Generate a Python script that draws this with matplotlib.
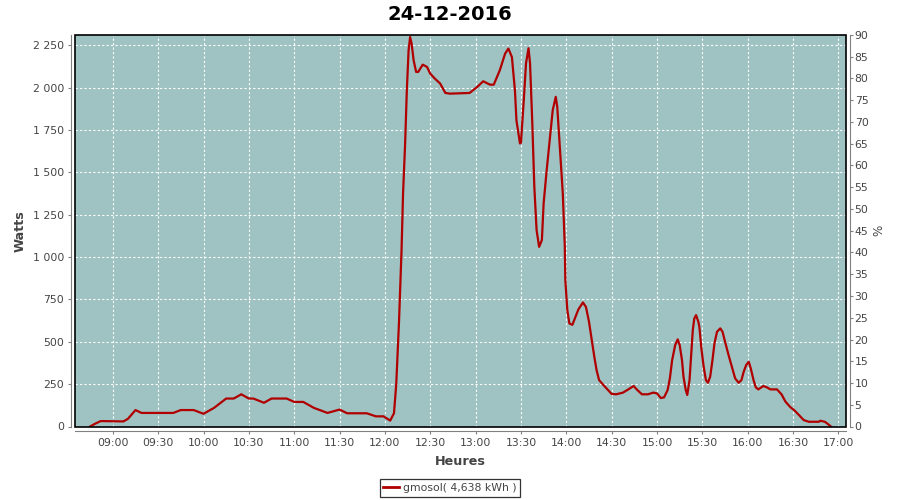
import matplotlib
matplotlib.use("Agg")
import matplotlib.pyplot as plt
import matplotlib.dates as mdates
import matplotlib.ticker as mticker
from matplotlib.patches import Rectangle
from matplotlib.lines import Line2D
import pandas as pd

title = "24-12-2016"
series_name = "gmosol( 4,638 kWh )"

times = ["08:45:00", "08:48:00", "08:52:00", "09:07:00", "09:10:00", "09:15:00", "09:19:00",
         "09:40:00", "09:45:00", "09:53:30", "10:00:00", "10:07:00", "10:15:00", "10:20:00",
         "10:25:00", "10:30:00", "10:33:00", "10:40:00", "10:45:00", "10:55:00", "11:00:00",
         "11:06:00", "11:13:00", "11:22:00", "11:30:00", "11:35:00", "11:48:00", "11:54:00",
         "11:59:00", "12:03:30", "12:06:00", "12:07:30", "12:09:20", "12:11:00", "12:12:00",
         "12:13:20", "12:14:30", "12:15:40", "12:16:40", "12:17:40", "12:19:00", "12:20:40",
         "12:22:00", "12:25:00", "12:27:50", "12:30:00", "12:33:00", "12:36:30", "12:40:00",
         "12:43:00", "12:56:00", "13:01:00", "13:05:00", "13:09:30", "13:12:00", "13:16:00",
         "13:19:30", "13:21:40", "13:24:00", "13:26:00", "13:27:00", "13:29:20", "13:30:00",
         "13:32:00", "13:33:20", "13:35:00", "13:36:00", "13:37:30", "13:38:50", "13:40:20",
         "13:42:00", "13:43:50", "13:45:00", "13:47:00", "13:49:00", "13:51:00", "13:53:00",
         "13:54:00", "13:56:00", "13:57:40", "13:59:00", "13:59:20", "14:00:40", "14:02:00",
         "14:04:00", "14:05:40", "14:08:00", "14:11:00", "14:13:00", "14:15:00", "14:16:40",
         "14:18:30", "14:20:00", "14:21:40", "14:24:30", "14:27:40", "14:30:00", "14:33:00",
         "14:37:30", "14:41:00", "14:44:30", "14:47:00", "14:50:00", "14:54:00", "14:57:30",
         "15:00:00", "15:02:30", "15:04:40", "15:07:00", "15:08:30", "15:10:00", "15:12:00",
         "15:13:40", "15:15:00", "15:16:30", "15:17:30", "15:19:00", "15:20:00", "15:21:30",
         "15:22:30", "15:23:40", "15:24:40", "15:25:50", "15:27:20", "15:28:00", "15:29:20",
         "15:30:50", "15:32:20", "15:33:40", "15:35:10", "15:36:40", "15:38:00", "15:39:40",
         "15:41:50", "15:43:20", "15:45:00", "15:47:20", "15:49:30", "15:51:40", "15:54:00",
         "15:55:50", "15:57:20", "15:59:00", "16:00:40", "16:02:00", "16:03:50", "16:05:20",
         "16:07:00", "16:10:20", "16:12:40", "16:15:00", "16:19:20", "16:22:20", "16:25:00",
         "16:28:20", "16:30:40", "16:33:50", "16:37:00", "16:40:20", "16:47:00", "16:48:00",
         "16:51:00", "16:53:00", "16:55:00"]

watts = [0, 15, 32, 30, 45, 97, 80,
         80, 97, 97, 75, 110, 165, 165,
         190, 165, 165, 140, 165, 165, 145,
         145, 110, 80, 100, 78, 78, 60,
         60, 35, 78, 250, 620, 1040, 1375,
         1660, 1984, 2220, 2298, 2259, 2160, 2092,
         2092, 2135, 2122, 2082, 2053, 2024, 1968,
         1964, 1968, 2003, 2037, 2017, 2017, 2102,
         2200, 2230, 2180, 1984, 1807, 1670, 1675,
         1945, 2143, 2232, 2143, 1789, 1414, 1159,
         1060, 1100, 1318, 1512, 1689, 1866, 1945,
         1886, 1611, 1375, 1060, 864, 687, 608,
         600, 638, 691, 732, 705, 618, 520,
         412, 333, 274, 245, 215, 192, 190,
         200, 219, 239, 215, 190, 190, 200,
         195, 168, 172, 215, 284, 392, 480,
         514, 480, 392, 294, 215, 186, 274,
         412, 569, 638, 657, 618, 588, 461,
         353, 274, 258, 294, 392, 490, 559,
         579, 559, 500, 421, 353, 284, 258,
         274, 323, 363, 382, 343, 274, 231,
         219, 239, 231, 219, 219, 190, 146,
         113, 97, 68, 38, 28, 28, 34,
         28, 15, 0]

x_start, x_end = "08:35:00", "17:05:00"
watt_ticks = list(range(0, 2251, 250))
pct_ticks = list(range(0, 91, 5))

day = "2016-12-24 "
t = pd.to_datetime([day + s for s in times])

bg = "#9EC3C2"
line_c = "#B00000"
axis_c = "#808080"
txt_c = "#444444"

fig = plt.figure(figsize=(9, 5), dpi=100)
ax = fig.add_axes([75 / 900, 1 - 426.5 / 500, (846 - 75) / 900, (426.5 - 35) / 500])
ax.set_facecolor(bg)
ax.plot(t, watts, color=line_c, lw=1.6, zorder=3, solid_joinstyle="round")

ax.set_xlim(pd.Timestamp(day + x_start), pd.Timestamp(day + x_end))
ax.set_ylim(0, 2310)
ax.xaxis.set_major_locator(mdates.MinuteLocator(byminute=[0, 30]))
ax.xaxis.set_major_formatter(mdates.DateFormatter("%H:%M"))
ax.set_yticks(watt_ticks)
ax.yaxis.set_major_formatter(mticker.FuncFormatter(lambda v, p: f"{int(v):,}".replace(",", " ")))

ax.grid(True, color="white", linestyle=(0, (2, 2)), linewidth=0.8)
ax.set_axisbelow(True)

for s in ["top", "right"]:
    ax.spines[s].set_visible(False)
for s in ["left", "bottom"]:
    ax.spines[s].set_position(("outward", 3))
    ax.spines[s].set_color(axis_c)
ax.tick_params(axis="both", colors=axis_c, labelcolor=txt_c, labelsize=7.8, length=2.5, width=0.8, pad=2.5)

ax2 = ax.twinx()
ax2.set_ylim(0, 90)
ax2.set_yticks(pct_ticks)
for s in ["top", "left", "bottom"]:
    ax2.spines[s].set_visible(False)
ax2.spines["right"].set_position(("outward", 3))
ax2.spines["right"].set_color(axis_c)
ax2.tick_params(axis="y", colors=axis_c, labelcolor=txt_c, labelsize=7.8, length=2.0, width=0.8, pad=1.2)
ax2.set_ylabel("%", fontsize=8.6, color=txt_c, labelpad=3)

ax.add_patch(Rectangle((0, 0), 1, 1, transform=ax.transAxes, fill=False,
                       edgecolor="black", linewidth=1.2, zorder=10, clip_on=False))

ax.set_ylabel("Watts", fontsize=9.2, fontweight="bold", color=txt_c, labelpad=4)
ax.set_xlabel("Heures", fontsize=9.2, fontweight="bold", color=txt_c, labelpad=5)
fig.suptitle(title, fontsize=14, fontweight="bold", y=0.99)

handle = Line2D([], [], color=line_c, lw=2)
leg = fig.legend([handle], [series_name], loc="center", bbox_to_anchor=(450 / 900, 1 - 488 / 500),
                 frameon=True, fancybox=False, edgecolor="black", fontsize=7.8,
                 handlelength=1.4, handletextpad=0.4, borderpad=0.35, borderaxespad=0)
leg.get_frame().set_linewidth(0.9)
for txt in leg.get_texts():
    txt.set_color(txt_c)

fig.savefig("out.png", dpi=100)
